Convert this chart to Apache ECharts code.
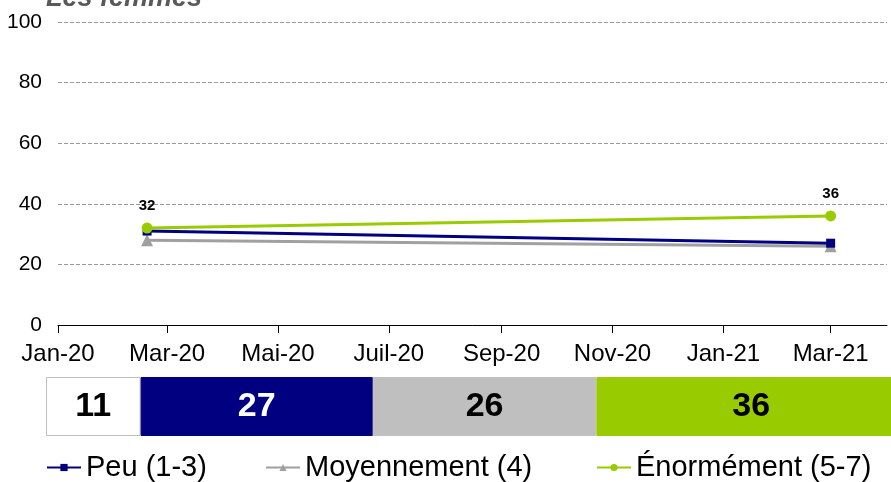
<!DOCTYPE html>
<html>
<head>
<meta charset="utf-8">
<script src="https://cdn.jsdelivr.net/npm/echarts@6/dist/echarts.min.js"></script>
<style>
html,body{margin:0;padding:0;background:#fff;}
#chart{width:891px;height:482px;}
</style>
</head>
<body>
<div id="chart"></div>
<script>
// dates des deux vagues
var waveDates = [Date.UTC(2020, 1, 19), Date.UTC(2021, 2, 1)];
var peu = [31, 27];
var moyen = [28, 26];
var enorme = [32, 36];
var seriesNames = ['Peu (1-3)', 'Moyennement (4)', 'Énormément (5-7)'];
// graduations de l'axe
var tickDates = [
	Date.UTC(2020, 0, 1), Date.UTC(2020, 2, 1), Date.UTC(2020, 4, 1),
	Date.UTC(2020, 6, 1), Date.UTC(2020, 8, 1), Date.UTC(2020, 10, 1),
	Date.UTC(2021, 0, 1), Date.UTC(2021, 2, 1)
];
var tickLabels = ['Jan-20', 'Mar-20', 'Mai-20', 'Juil-20', 'Sep-20', 'Nov-20', 'Jan-21', 'Mar-21'];
var axisEnd = Date.UTC(2021, 3, 1);
// barre de répartition
var barValues = [11, 27, 26, 36];
var barColors = ['#ffffff', '#000080', '#bfbfbf', '#99cc00'];
var barTextColors = ['#000', '#fff', '#000', '#000'];

function pairs(vals){
	var res = [];
	for (var i = 0; i < vals.length; i++) {
		res.push([waveDates[i], vals[i]]);
	}
	return res;
}

var myChart = echarts.init(document.getElementById('chart'));
var series = [
	{
		name: seriesNames[0], type: 'line', xAxisIndex: 0, yAxisIndex: 0,
		symbol: 'rect', symbolSize: 9, color: '#000080',
		lineStyle: {width: 3}, z: 3,
		data: pairs(peu)
	},
	{
		name: seriesNames[1], type: 'line', xAxisIndex: 0, yAxisIndex: 0,
		symbol: 'triangle', symbolSize: 12, color: '#a0a0a0',
		lineStyle: {width: 3}, z: 2,
		data: pairs(moyen)
	},
	{
		name: seriesNames[2], type: 'line', xAxisIndex: 0, yAxisIndex: 0,
		symbol: 'circle', symbolSize: 11, color: '#99cc00',
		lineStyle: {width: 3}, z: 4,
		label: {show: true, position: 'top', distance: 9, color: '#000', fontWeight: 'bold', fontSize: 15, fontFamily: 'Liberation Sans'},
		data: pairs(enorme)
	}
];
barValues.forEach(function(v, i){
	series.push({
		type: 'bar', stack: 'rep', xAxisIndex: 1, yAxisIndex: 1,
		barWidth: 59,
		itemStyle: {color: barColors[i], borderColor: i == 0 ? '#bfbfbf' : barColors[i], borderWidth: 1},
		label: {show: true, position: 'inside', color: barTextColors[i], fontSize: 34, fontWeight: 'bold', fontFamily: 'Liberation Sans'},
		data: [v]
	});
});

// une légende par série pour placer chaque entrée
var legends = [46, 265, 596].map(function(x, i){
	return {
		data: [seriesNames[i]], top: 453, left: x, padding: 0,
		itemWidth: 34, itemHeight: 9, itemGap: 0,
		textStyle: {fontSize: 29, color: '#000', fontFamily: 'Liberation Sans'}
	};
});

var option = {
	animation: false,
	title: {
		text: 'Les femmes', left: 41, top: -20,
		textStyle: {fontSize: 27, fontStyle: 'italic', fontWeight: 'bold', color: '#595959', fontFamily: 'Liberation Sans'}
	},
	legend: legends,
	grid: [
		{left: 58, right: 4, top: 22, bottom: 157},
		{left: 46, width: 860, top: 377, height: 59, outerBoundsMode: 'none'}
	],
	xAxis: [
		{
			type: 'value', gridIndex: 0,
			min: tickDates[0], max: axisEnd,
			axisLine: {show: true, onZero: false, lineStyle: {color: '#000', width: 1}},
			axisTick: {show: true, length: 8, lineStyle: {color: '#000'}, customValues: tickDates},
			axisLabel: {
				customValues: tickDates, fontSize: 24, color: '#000', margin: 17, fontFamily: 'Liberation Sans',
				formatter: function(val){
					var idx = tickDates.indexOf(val);
					return idx >= 0 ? tickLabels[idx] : '';
				}
			},
			splitLine: {show: false}
		},
		{type: 'value', gridIndex: 1, min: 0, max: 100, show: false}
	],
	yAxis: [
		{
			type: 'value', gridIndex: 0, min: 0, max: 100, interval: 20,
			axisLine: {show: false}, axisTick: {show: false},
			axisLabel: {fontSize: 21, color: '#000', margin: 16, fontFamily: 'Liberation Sans'},
			splitLine: {lineStyle: {color: '#999', type: 'dashed', width: 1}}
		},
		{type: 'category', gridIndex: 1, data: ['r'], show: false}
	],
	series: series
};
myChart.setOption(option);
</script>
</body>
</html>
